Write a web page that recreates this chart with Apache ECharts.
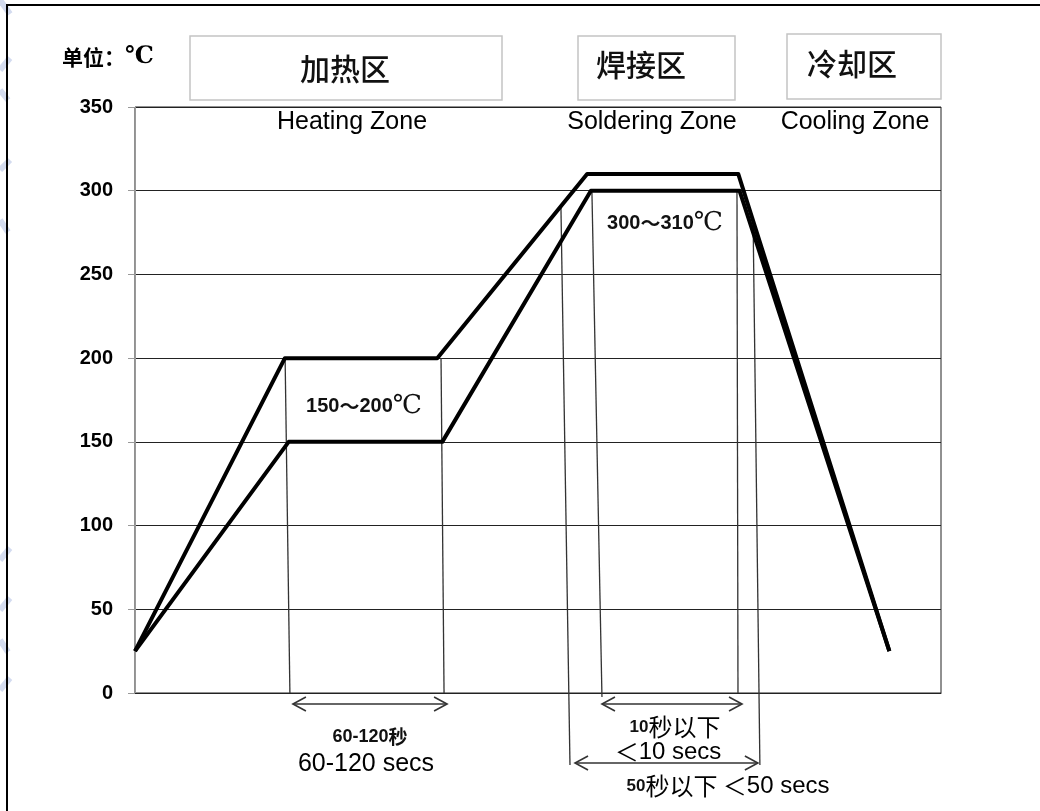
<!DOCTYPE html>
<html><head><meta charset="utf-8">
<script src="https://cdn.jsdelivr.net/npm/echarts@6/dist/echarts.min.js"></script>
<style>html,body{margin:0;padding:0;background:#fff}#c{width:1040px;height:811px}</style>
</head><body><div id="c"></div>
<script>
// ---- data ----
const yTicks = [0, 50, 100, 150, 200, 250, 300, 350];
const upperTime = [0, 59.5, 120, 179.5, 239.5, 299.5];
const upperTemp = [25, 200, 200, 310, 310, 25];
const lowerTime = [0, 61, 122, 181, 240, 299.5];
const lowerTemp = [25, 150, 150, 300, 300, 25];
// thin guide lines: top point and bottom point
const guideTimeTop = [59.6, 121.5, 169.1, 181.4, 239, 245.4];
const guideTempTop = [200, 200, 290.8, 300, 300, 282];
const guideTimeBottom = [61.5, 122.7, 172.7, 185.4, 239.4, 248.1];
const guideTempBottom = [0, 0, -43, -2.4, 0, -43];
// double-headed arrows
const arrowStart = [62.7, 185.4, 174.7];
const arrowEnd = [123.9, 241, 247.3];
const arrowTemp = [-6.6, -6.6, -41.8];
const zoneNamesCN = ['加热区', '焊接区', '冷却区'];
const zoneNamesEN = ['Heating Zone', 'Soldering Zone', 'Cooling Zone'];

const chart = echarts.init(document.getElementById('c'), null, {renderer: 'canvas'});
const EN = '"Liberation Sans", Arial, sans-serif';
const CJK = '"Noto Sans CJK SC", sans-serif';
const lineStyleThin = {stroke: '#333', lineWidth: 1.3, fill: null};

const boxes = [
  {x: 190, y: 36, w: 312, h: 64, cx: 345, cy: 69},
  {x: 578, y: 36, w: 157, h: 64, cx: 641, cy: 65},
  {x: 787, y: 34, w: 154, h: 65, cx: 852, cy: 64}
];
const enPos = [[352, 122], [652, 122], [855, 122]];

const graphics = [];
// outer frame
graphics.push({type: 'polyline', shape: {points: [[7, 811], [7, 5], [1040, 5]]}, style: {stroke: '#000', lineWidth: 2, fill: null}, z: 10});
// faint left decorations
[[[0, 0], [10, 14]], [[0, 70], [10, 58]], [[0, 90], [8, 100]], [[0, 170], [10, 160]], [[0, 220], [8, 232]], [[0, 560], [10, 548]], [[0, 610], [10, 598]], [[0, 640], [8, 652]], [[0, 690], [10, 678]]].forEach(p => {
  graphics.push({type: 'polyline', shape: {points: p}, style: {stroke: '#d3dbef', lineWidth: 6, fill: null}, z: 1});
});
boxes.forEach((b, i) => {
  graphics.push({type: 'rect', shape: {x: b.x, y: b.y, width: b.w, height: b.h}, style: {fill: '#fff', stroke: '#c4c4c4', lineWidth: 1.5}, z: 5});
  graphics.push({type: 'text', x: b.cx, y: b.cy, style: {text: zoneNamesCN[i], font: '500 30px ' + CJK, fill: '#111', align: 'center', verticalAlign: 'middle'}, z: 6});
  graphics.push({type: 'text', x: enPos[i][0], y: enPos[i][1], style: {text: zoneNamesEN[i], font: '25px ' + EN, fill: '#000', align: 'center', verticalAlign: 'middle'}, z: 6});
});
const degRich = {a: {font: 'bold 21px ' + CJK, fill: '#000'}, d: {font: 'bold 24px "DejaVu Serif", serif', fill: '#000'}};
graphics.push({type: 'text', x: 62, y: 57, style: {text: '{a|单位：}{d|℃}', align: 'left', verticalAlign: 'middle', rich: degRich}, z: 6});
const rangeRich = {n: {font: 'bold 20px ' + EN, fill: '#111'}, t: {font: 'bold 20px ' + CJK, fill: '#111'}, d: {font: '26px "DejaVu Serif", serif', fill: '#111'}};
graphics.push({type: 'text', x: 364, y: 406, style: {text: '{n|150}{t|～}{n|200}{d|℃}', align: 'center', verticalAlign: 'middle', rich: rangeRich}, z: 6});
graphics.push({type: 'text', x: 665, y: 223, style: {text: '{n|300}{t|～}{n|310}{d|℃}', align: 'center', verticalAlign: 'middle', rich: rangeRich}, z: 6});
graphics.push({type: 'text', x: 370, y: 737, style: {
  text: '{b|60-120}{c|秒}', align: 'center', verticalAlign: 'middle',
  rich: {b: {font: 'bold 18px ' + EN, fill: '#111'}, c: {font: 'bold 19px ' + CJK, fill: '#111'}}}, z: 6});
graphics.push({type: 'text', x: 366, y: 764, style: {text: '60-120 secs', font: '25px ' + EN, fill: '#000', align: 'center', verticalAlign: 'middle'}, z: 6});
const secRich = {b: {font: 'bold 17px ' + EN, fill: '#111'}, c: {font: '24px ' + CJK, fill: '#000'}, e: {font: '24px ' + EN, fill: '#000'}};
graphics.push({type: 'text', x: 675, y: 727, style: {text: '{b|10}{c|秒以下}', align: 'center', verticalAlign: 'middle', rich: secRich}, z: 6});
graphics.push({type: 'text', x: 668, y: 752, style: {text: '{c|＜}{e|10 secs}', align: 'center', verticalAlign: 'middle', rich: secRich}, z: 6});
graphics.push({type: 'text', x: 728, y: 786, style: {text: '{b|50}{c|秒以下 ＜}{e|50 secs}', align: 'center', verticalAlign: 'middle', rich: secRich}, z: 6});

const option = {
  backgroundColor: '#fff',
  animation: false,
  grid: {left: 135, right: 99, top: 107, bottom: 118, show: true, borderColor: '#222', borderWidth: 1},
  xAxis: {type: 'value', min: 0, max: 320, axisLabel: {show: false}, axisTick: {show: false},
    splitLine: {show: false}, axisLine: {show: true, lineStyle: {color: '#222', width: 1}}},
  yAxis: {type: 'value', min: yTicks[0], max: yTicks[yTicks.length - 1], interval: yTicks[1] - yTicks[0],
    axisLine: {show: true, lineStyle: {color: '#999', width: 1}},
    axisTick: {show: true, length: 7, lineStyle: {color: '#999'}},
    axisLabel: {margin: 22, color: '#000', fontWeight: 'bold', fontSize: 20, fontFamily: EN},
    splitLine: {show: true, lineStyle: {color: '#222', width: 1}}},
  graphic: graphics,
  series: [
    {type: 'custom', name: 'guides', clip: false, z: 2,
      data: guideTimeTop.map((t, i) => [t, guideTempTop[i], guideTimeBottom[i], guideTempBottom[i]]),
      encode: {x: [0, 2], y: [1, 3]},
      renderItem(params, api) {
        const p1 = api.coord([api.value(0), api.value(1)]);
        const p2 = api.coord([api.value(2), api.value(3)]);
        return {type: 'line', shape: {x1: p1[0], y1: p1[1], x2: p2[0], y2: p2[1]}, style: lineStyleThin};
      }},
    {type: 'custom', name: 'arrows', clip: false, z: 2,
      data: arrowStart.map((s, i) => [s, arrowEnd[i], arrowTemp[i]]),
      encode: {x: [0, 1], y: 2},
      renderItem(params, api) {
        const a = api.coord([api.value(0), api.value(2)]);
        const b = api.coord([api.value(1), api.value(2)]);
        const h = 13, w = 7;
        const st = {stroke: '#333', lineWidth: 1.6, fill: null};
        return {type: 'group', children: [
          {type: 'line', shape: {x1: a[0], y1: a[1], x2: b[0], y2: b[1]}, style: st},
          {type: 'polyline', shape: {points: [[a[0] + h, a[1] - w], [a[0], a[1]], [a[0] + h, a[1] + w]]}, style: st},
          {type: 'polyline', shape: {points: [[b[0] - h, b[1] - w], [b[0], b[1]], [b[0] - h, b[1] + w]]}, style: st}
        ]};
      }},
    {type: 'line', name: 'upper', z: 4, symbol: 'none', clip: false,
      data: upperTime.map((t, i) => [t, upperTemp[i]]),
      lineStyle: {color: '#000', width: 4, join: 'round'}},
    {type: 'line', name: 'lower', z: 4, symbol: 'none', clip: false,
      data: lowerTime.map((t, i) => [t, lowerTemp[i]]),
      lineStyle: {color: '#000', width: 4, join: 'round'}}
  ]
};
chart.setOption(option);
</script></body></html>
